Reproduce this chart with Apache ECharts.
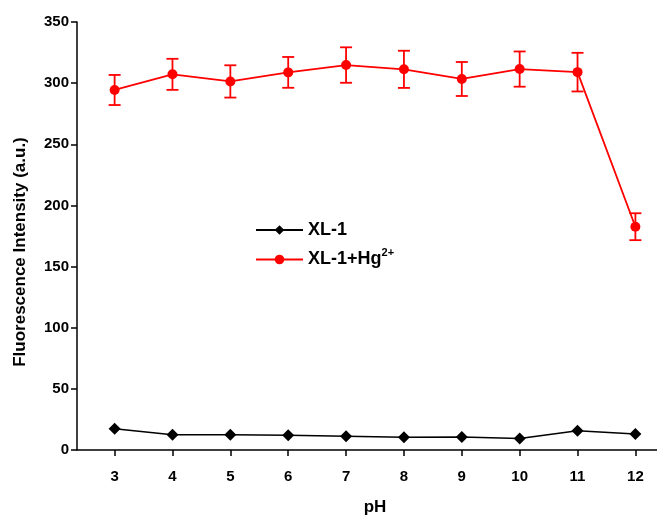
<!DOCTYPE html>
<html>
<head>
<meta charset="utf-8">
<script src="https://cdn.jsdelivr.net/npm/echarts@6/dist/echarts.min.js"></script>
<style>
html,body{margin:0;padding:0;background:#fff;overflow:hidden;}
#chart{width:657px;height:516px;}
</style>
</head>
<body>
<div id="chart"></div>
<script>
const pH = [3, 4, 5, 6, 7, 8, 9, 10, 11, 12];
const xl1 = [17.4, 12.5, 12.5, 12.0, 11.2, 10.4, 10.6, 9.5, 15.8, 13.1];
const xl1Hg = [294.4, 307.2, 301.4, 308.8, 314.8, 311.3, 303.4, 311.5, 309.0, 182.6];
const xl1HgErr = [12.3, 12.7, 13.2, 12.6, 14.5, 15.2, 13.9, 14.4, 15.8, 11.0];
const yTicks = [0, 50, 100, 150, 200, 250, 300, 350];

const chart = echarts.init(document.getElementById('chart'));
const font = 'Liberation Sans, Arial, sans-serif';

const errData = pH.map((x, i) => [x, xl1Hg[i] - xl1HgErr[i], xl1Hg[i] + xl1HgErr[i]]);

chart.setOption({
  animation: false,
  backgroundColor: '#fff',
  grid: { left: 77, width: 596, top: 22, height: 428, outerBoundsMode: 'none', containLabel: false },
  legend: {
    orient: 'vertical',
    left: 250,
    top: 216,
    itemWidth: 47,
    itemHeight: 12,
    itemGap: 8,
    data: ['XL-1', 'XL-1+Hg2+'],
    formatter: function (name) {
      if (name === 'XL-1+Hg2+') return '{a|XL-1+Hg}{s|2+}';
      return '{a|' + name + '}';
    },
    textStyle: {
      fontFamily: font,
      rich: {
        a: { fontSize: 18, fontWeight: 'bold', color: '#000', fontFamily: font },
        s: { fontSize: 11, fontWeight: 'bold', color: '#000', fontFamily: font, verticalAlign: 'top', padding: [0, 0, 14, 0] }
      }
    }
  },
  xAxis: {
    type: 'value',
    min: 2.35,
    max: 12.65,
    name: 'pH',
    nameLocation: 'middle',
    nameGap: 49,
    nameTextStyle: { fontFamily: font, fontSize: 17, fontWeight: 'bold', color: '#000' },
    axisLine: { show: true, onZero: false, lineStyle: { color: '#000', width: 1.5 } },
    axisTick: { show: true, length: 6, inside: false, customValues: pH, lineStyle: { color: '#000', width: 1.5 } },
    axisLabel: { customValues: pH, fontFamily: font, fontSize: 15, fontWeight: 'bold', color: '#000', margin: 19 },
    splitLine: { show: false }
  },
  yAxis: {
    type: 'value',
    min: 0,
    max: 350,
    interval: 50,
    name: 'Fluorescence Intensity (a.u.)',
    nameLocation: 'middle',
    nameGap: 48,
    nameTextStyle: { fontFamily: font, fontSize: 17, fontWeight: 'bold', color: '#000', padding: [0, 32, 0, 0] },
    axisLine: { show: true, lineStyle: { color: '#000', width: 1.5 } },
    axisTick: { show: true, length: 6, inside: false, lineStyle: { color: '#000', width: 1.5 } },
    axisLabel: { fontFamily: font, fontSize: 15, fontWeight: 'bold', color: '#000', margin: 8,
      formatter: function (v) { return yTicks.indexOf(v) >= 0 ? String(v) : ''; } },
    splitLine: { show: false }
  },
  series: [
    {
      name: 'XL-1',
      type: 'line',
      data: pH.map((x, i) => [x, xl1[i]]),
      symbol: 'diamond',
      symbolSize: 12,
      lineStyle: { color: '#000', width: 1.5 },
      itemStyle: { color: '#000' },
      z: 3
    },
    {
      name: 'XL-1+Hg2+',
      type: 'line',
      data: pH.map((x, i) => [x, xl1Hg[i]]),
      symbol: 'circle',
      symbolSize: 10,
      lineStyle: { color: '#ff0000', width: 1.8 },
      itemStyle: { color: '#ff0000' },
      z: 3
    },
    {
      name: 'err',
      type: 'custom',
      data: errData,
      encode: { x: 0, y: [1, 2] },
      z: 2,
      renderItem: function (params, api) {
        const x = api.value(0);
        const lo = api.coord([x, api.value(1)]);
        const hi = api.coord([x, api.value(2)]);
        const hw = 6;
        const style = { stroke: '#ff0000', lineWidth: 1.8 };
        return {
          type: 'group',
          children: [
            { type: 'line', shape: { x1: lo[0], y1: lo[1], x2: hi[0], y2: hi[1] }, style: style },
            { type: 'line', shape: { x1: lo[0] - hw, y1: lo[1], x2: lo[0] + hw, y2: lo[1] }, style: style },
            { type: 'line', shape: { x1: hi[0] - hw, y1: hi[1], x2: hi[0] + hw, y2: hi[1] }, style: style }
          ]
        };
      }
    }
  ]
});
</script>
</body>
</html>
